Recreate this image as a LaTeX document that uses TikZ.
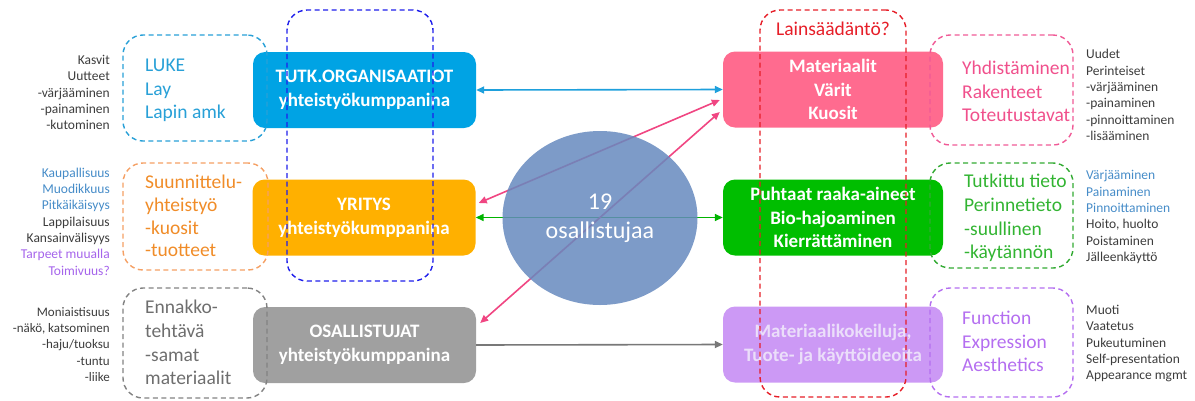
\documentclass[tikz,border=0pt]{standalone}
\usepackage{fontspec}
\setmainfont{Carlito}
\usetikzlibrary{arrows.meta,shapes.geometric}
\definecolor{bxblue}{RGB}{0,163,228}
\definecolor{bxyellow}{RGB}{255,176,0}
\definecolor{bxgray}{RGB}{160,160,160}
\definecolor{bxpink}{RGB}{255,107,143}
\definecolor{bxgreen}{RGB}{0,190,0}
\definecolor{bxpurple}{RGB}{204,153,245}
\definecolor{txpurple}{RGB}{235,222,250}
\definecolor{ballc}{RGB}{102,137,190}
\definecolor{dblue}{RGB}{30,30,235}
\definecolor{dred}{RGB}{230,30,40}
\definecolor{lblue}{RGB}{40,160,215}
\definecolor{dorange}{RGB}{245,160,100}
\definecolor{torange}{RGB}{240,140,40}
\definecolor{dgray}{RGB}{130,130,130}
\definecolor{tgray}{RGB}{110,110,110}
\definecolor{dpink}{RGB}{240,90,150}
\definecolor{tpink}{RGB}{240,80,140}
\definecolor{dgreen}{RGB}{50,170,50}
\definecolor{tgreen}{RGB}{50,180,50}
\definecolor{dpurple}{RGB}{180,110,240}
\definecolor{sdark}{RGB}{60,60,60}
\definecolor{sblue}{RGB}{70,140,200}
\definecolor{spurple}{RGB}{165,100,235}
\definecolor{ablue}{RGB}{30,160,220}
\definecolor{agreen}{RGB}{0,180,0}
\definecolor{apink}{RGB}{240,70,130}
\definecolor{agray}{RGB}{120,120,120}
\begin{document}
\begin{tikzpicture}[x=1pt,y=-1pt,
  fbox/.style={rounded corners=12pt, minimum width=223pt, minimum height=76pt, text=white,
    font=\bfseries\fontsize{19}{24}\selectfont, align=center, inner sep=0pt},
  dashbox/.style={draw, rounded corners=20pt, line width=1.4pt, dash pattern=on 5pt off 3.5pt, inner sep=0pt},
  smalltxt/.style={font=\fontsize{13.5}{16.3}\selectfont, inner sep=0pt, text=sdark},
  coltxt/.style={font=\fontsize{19.5}{23.6}\selectfont, inner sep=0pt, align=left, anchor=west},
  arr/.style={line width=1.6pt, {Triangle[length=8pt,width=7pt]}-{Triangle[length=8pt,width=7pt]}},
  arr1/.style={line width=1.6pt, -{Triangle[length=8pt,width=7pt]}}
]
\useasboundingbox (0,0) rectangle (1195,400);

% filled boxes
\node[fbox, fill=bxblue] (tutk) at (364.5,90) {TUTK.ORGANISAATIOT\\yhteistyökumppanina};
\node[fbox, fill=bxyellow] (yritys) at (364,217.5) {YRITYS\\yhteistyökumppanina};
\node[fbox, fill=bxgray] (osall) at (364.5,345) {OSALLISTUJAT\\yhteistyökumppanina};
\node[fbox, fill=bxpink, minimum width=220pt, font=\bfseries\fontsize{19}{23.5}\selectfont] (mater) at (833,89.5) {Materiaalit\\Värit\\Kuosit};
\node[fbox, fill=bxgreen, minimum width=220pt, font=\bfseries\fontsize{19}{23.5}\selectfont] (puht) at (833,217.5) {Puhtaat raaka-aineet\\Bio-hajoaminen\\Kierrättäminen};
\node[fbox, fill=bxpurple, minimum width=220pt, text=txpurple] (kokeil) at (833,344.5) {Materiaalikokeiluja,\\Tuote- ja käyttöideoita};

% connectors
\draw[arr, ablue] (tutk.east) -- (mater.west);
\draw[arr, agreen] (yritys.east) -- (puht.west);
\draw[arr1, agray] (osall.east) -- (kokeil.west);
\draw[arr, apink] ([xshift=3pt,yshift=14.5pt]yritys.east) -- ([xshift=-3pt,yshift=-10.5pt]mater.west);
\draw[arr, apink] ([xshift=4pt,yshift=22pt]osall.east) -- ([xshift=-3pt,yshift=-22.5pt]mater.west);

% circle
\node[ellipse, minimum width=195pt, minimum height=174pt, fill=ballc, fill opacity=0.85, text opacity=1,
  text=white, align=center, font=\fontsize{24}{29}\selectfont, inner sep=0pt] (ball) at (600,218) {19\\osallistujaa};

% dashed frames
\node[dashbox, dblue, minimum width=146pt, minimum height=271pt] (fblue) at (360,145.5) {};
\node[dashbox, dred, minimum width=146pt, minimum height=387pt] (fred) at (833,203.5) {};
\node[text=dred, font=\fontsize{19.5}{22}\selectfont, inner sep=0pt] (laki) at (833,29) {Lainsäädäntö?};

\node[dashbox, lblue, minimum width=144pt, minimum height=106pt] (lb1) at (195,88) {};
\node[dashbox, dorange, minimum width=145pt, minimum height=107pt] (lb2) at (195.5,216.5) {};
\node[dashbox, dgray, minimum width=144pt, minimum height=110pt] (lb3) at (195,343) {};
\node[dashbox, dpink, minimum width=143pt, minimum height=110pt] (rb1) at (1001.5,90) {};
\node[dashbox, dgreen, minimum width=143pt, minimum height=105pt] (rb2) at (1001.5,215.5) {};
\node[dashbox, dpurple, minimum width=143pt, minimum height=109pt] (rb3) at (1001.5,342.5) {};

% coloured texts in dashed boxes
\node[coltxt, text=lblue] (t1) at (145,90.5) {LUKE\\Lay\\Lapin amk};
\node[coltxt, text=torange, font=\fontsize{19.5}{22.7}\selectfont] (t2) at (145,216) {Suunnittelu-\\yhteistyö\\-kuosit\\-tuotteet};
\node[coltxt, text=tgray] (t3) at (145,342.5) {Ennakko-\\tehtävä\\-samat\\materiaalit};
\node[coltxt, text=tpink] (t4) at (962,91.5) {Yhdistäminen\\Rakenteet\\Toteutustavat};
\node[coltxt, text=tgreen] (t5) at (964,218) {Tutkittu tieto\\Perinnetieto\\-suullinen\\-käytännön};
\node[coltxt, text=dpurple] (t6) at (962,341.5) {Function\\Expression\\Aesthetics};

% small side texts
\node[smalltxt, align=right, anchor=east] (s1) at (110,92.5) {Kasvit\\Uutteet\\-värjääminen\\-painaminen\\-kutominen};
\node[smalltxt, align=right, anchor=east] (s2) at (110,221.5) {{\color{sblue}Kaupallisuus}\\{\color{sblue}Muodikkuus}\\{\color{sblue}Pitkäikäisyys}\\Lappilaisuus\\Kansainvälisyys\\{\color{spurple}Tarpeet muualla}\\{\color{spurple}Toimivuus?}};
\node[smalltxt, align=right, anchor=east, font=\fontsize{13}{16.2}\selectfont] (s3) at (110,344.5) {Moniaistisuus\\-näkö, katsominen\\-haju/tuoksu\\-tuntu\\-liike};
\node[smalltxt, align=left, anchor=west] (s4) at (1086,95) {Uudet\\Perinteiset\\-värjääminen\\-painaminen\\-pinnoittaminen\\-lisääminen};
\node[smalltxt, align=left, anchor=west] (s5) at (1086,217) {{\color{sblue}Värjääminen}\\{\color{sblue}Painaminen}\\{\color{sblue}Pinnoittaminen}\\Hoito, huolto\\Poistaminen\\Jälleenkäyttö};
\node[smalltxt, align=left, anchor=west] (s6) at (1086,343.5) {Muoti\\Vaatetus\\Pukeutuminen\\Self-presentation\\Appearance mgmt};
\end{tikzpicture}
\end{document}
